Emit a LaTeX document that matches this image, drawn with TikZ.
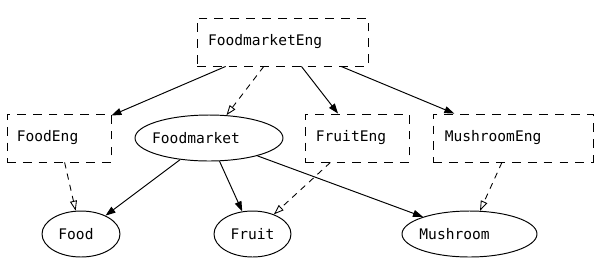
\documentclass[tikz,border=0pt]{standalone}
\usepackage{fontspec}
\setmonofont{DejaVu Sans Mono}
\usetikzlibrary{arrows.meta,shapes.geometric}
\newcommand\txtshiftleft[2]{\hspace*{-#1}#2}
\tikzset{
  lbl/.style={font=\ttfamily\fontsize{8.3}{10}\selectfont, inner sep=0pt},
  engbox/.style={lbl, draw, rectangle, dash pattern=on 5pt off 4pt, line width=0.5pt, minimum height=0.96cm},
  concept/.style={lbl, draw, ellipse, line width=0.55pt, minimum height=0.92cm},
  rel/.style={line width=0.55pt, -{Triangle[length=0.2cm,width=0.14cm]}},
  eqrel/.style={line width=0.5pt, dash pattern=on 3.5pt off 3pt, -{Triangle[open,length=0.2cm,width=0.14cm]}}
}
\begin{document}
\begin{tikzpicture}[x=0.02cm,y=-0.02cm]
\useasboundingbox (0,0) rectangle (600,275);
\node[engbox, minimum width=3.42cm] (fme) at (282.5,42) {\txtshiftleft{19.8pt}{FoodmarketEng}};
\node[engbox, minimum width=2.08cm] (fe) at (59,138) {\txtshiftleft{13pt}{FoodEng}};
\node[concept, minimum width=2.96cm] (fm) at (209,138) {\txtshiftleft{14.7pt}{Foodmarket}};
\node[engbox, minimum width=2.08cm] (fre) at (357,138) {\txtshiftleft{6.8pt}{FruitEng}};
\node[engbox, minimum width=3.2cm] (me) at (513,138) {\txtshiftleft{22.7pt}{MushroomEng}};
\node[concept, minimum width=1.56cm] (food) at (81,234) {\txtshiftleft{5.7pt}{Food}};
\node[concept, minimum width=1.54cm] (fruit) at (252.5,234) {Fruit};
\node[concept, minimum width=2.7cm] (mush) at (469.5,234) {\txtshiftleft{17pt}{Mushroom}};
\draw[rel] (fme) -- (fe);
\draw[eqrel] (fme) -- (fm);
\draw[rel] (fme) -- (fre);
\draw[rel] (fme) -- (me);
\draw[eqrel] (fe) -- (food);
\draw[rel] (fm) -- (food);
\draw[rel] (fm) -- (fruit);
\draw[rel] (fm) -- (mush);
\draw[eqrel] (fre) -- (fruit);
\draw[eqrel] (me) -- (mush);
\end{tikzpicture}
\end{document}
